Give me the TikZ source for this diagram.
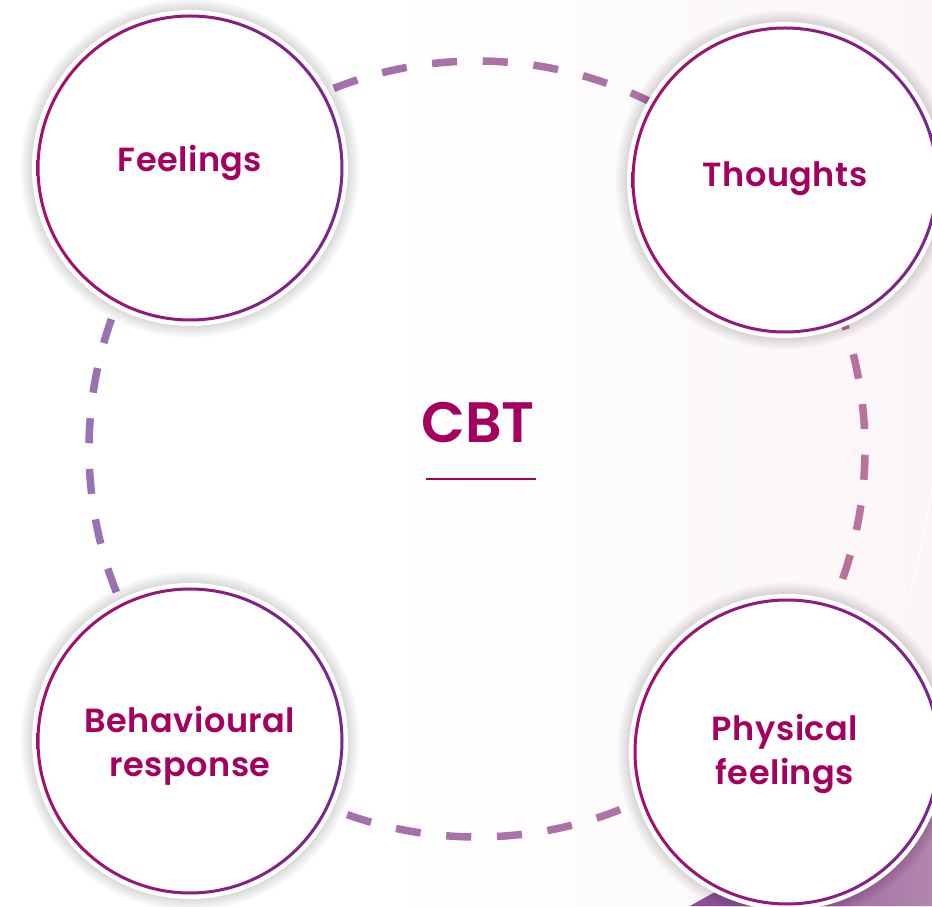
\documentclass[tikz,border=0pt]{standalone}
\usepackage{fontspec}
\newfontfamily\lblfont{Poppins SemiBold}[LetterSpace=1.5]
\newfontfamily\ttlfont{Poppins SemiBold}
\definecolor{txt}{HTML}{A5005F}
\definecolor{ringL}{HTML}{A3106C}
\definecolor{ringR}{HTML}{78278F}
\definecolor{dashP}{HTML}{9A71B5}
\definecolor{dashK}{HTML}{B8729B}
\definecolor{swA}{HTML}{8A4C98}
\definecolor{swB}{HTML}{B386AE}
\definecolor{bgR}{HTML}{FBF5F8}
\newcommand\mybub[3]{%
  \foreach \i in {1,...,14}{\fill[black,opacity=0.013] (#2,#3) circle (156+\i);}
  \node[bubble] (#1) at (#2,#3) {};
  \shade[left color=ringL, right color=ringR, even odd rule] (#1.center) circle (153.5) (#1.center) circle (150.5);
}
\begin{document}
\begin{tikzpicture}[x=1pt,y=1pt,
  lbl/.style={text=txt, font=\lblfont\fontsize{33.5}{44}\selectfont, align=center, inner sep=0pt},
  bubble/.style={circle, fill=white, minimum size=316pt, inner sep=0pt},
  dashseg/.style={line width=7.5pt}]
\useasboundingbox (0,0) rectangle (932,906);
\fill[white] (0,0) rectangle (932,906);
\shade[left color=white, right color=bgR] (380,0) rectangle (932,906);
% purple swoosh in the corner
\shade[left color=swA, right color=swB] (690,0) .. controls (760,40) and (870,90) .. (932,125) -- (932,0) -- cycle;
\draw[white, line width=1.2pt, opacity=0.8] (932,420) .. controls (925,370) and (915,330) .. (905,296);
% dashed ring
\coordinate (ring) at (477,457);
\foreach \k in {0,...,47}{
  \pgfmathsetmacro\as{85.45+7.5*\k}
  \pgfmathsetmacro\ae{89.15+7.5*\k}
  \pgfmathtruncatemacro\t{50+50*cos(87.3+7.5*\k)}
  \draw[dashseg, draw=dashK!\t!dashP] ([shift={(\as:388)}]ring) arc[start angle=\as, end angle=\ae, radius=388];
}
% bubbles
\mybub{feel}{190}{738}
\mybub{thou}{785}{726}
\mybub{beha}{190}{165}
\mybub{phys}{787}{154}
% labels
\node[lbl, anchor=base] (feelT) at (190,734) {Feelings};
\node[lbl, anchor=base] (thouT) at (785,719) {Thoughts};
\node[lbl, anchor=base] (behaT) at (190,130) {Behavioural\\response};
\node[lbl, anchor=base] (physT) at (785,122) {Physical\\feelings};
% centre title
\node[text=txt, font=\ttlfont\fontsize{57}{60}\selectfont, anchor=base, inner sep=0pt] (cbt) at (478,463) {CBT};
\coordinate (ulL) at (426,427);
\coordinate (ulR) at (536,427);
\draw[txt, line width=2.8pt] (ulL) -- (ulR);
\end{tikzpicture}
\end{document}
